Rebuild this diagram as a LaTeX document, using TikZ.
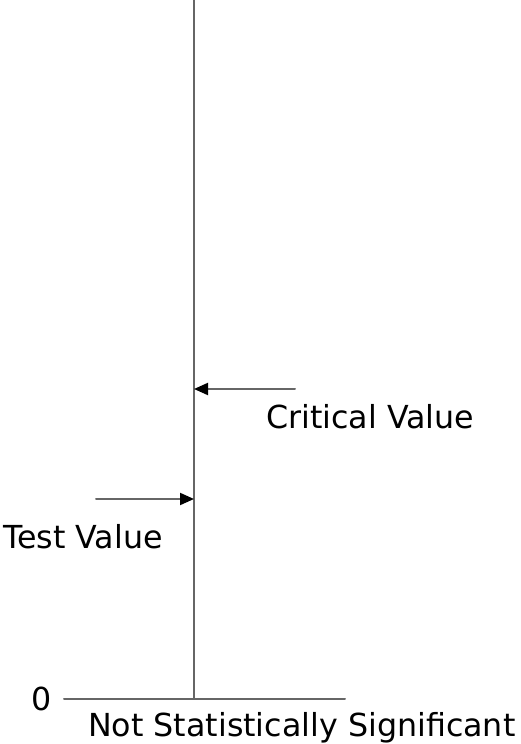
\documentclass[tikz,border=0pt]{standalone}
\usepackage{fontspec}
\setmainfont{DejaVu Sans}
\usetikzlibrary{arrows.meta,calc}
\usepackage{tkz-euclide}
\definecolor{AxisClr}{rgb}{0.4,0.4,0.4}
\tikzset{lbl/.style={font=\fontsize{31.7}{38}\selectfont,inner sep=0pt},
  tip/.style={-{Triangle[length=14pt,width=12pt,black]}}}

\begin{document}
\begin{tikzpicture}[x=1pt,y=1pt]
\tkzSetUpLine[line width=2pt,color=AxisClr]
\useasboundingbox (0,0) rectangle (521,744);

\tkzDefPoints{194/744/T,194/45/O,64/45/L,345/45/R}
\tkzDefPoints{295/355/C,194/355/Cv,96/245/S,194/245/Sv}

\tkzDrawSegments(T,O L,R)
\tkzDrawSegment[tip](C,Cv)
\tkzDrawSegment[tip](S,Sv)

\node[lbl,anchor=east] (zero) at (52,45) {0};
\node[lbl,anchor=base west] (nss) at (88,7) {Not Statistically Significant};
\node[lbl,anchor=base west] (crit) at (266,315) {Critical Value};
\node[lbl,anchor=base west] (test) at (3,195) {Test Value};

\end{tikzpicture}
\end{document}
